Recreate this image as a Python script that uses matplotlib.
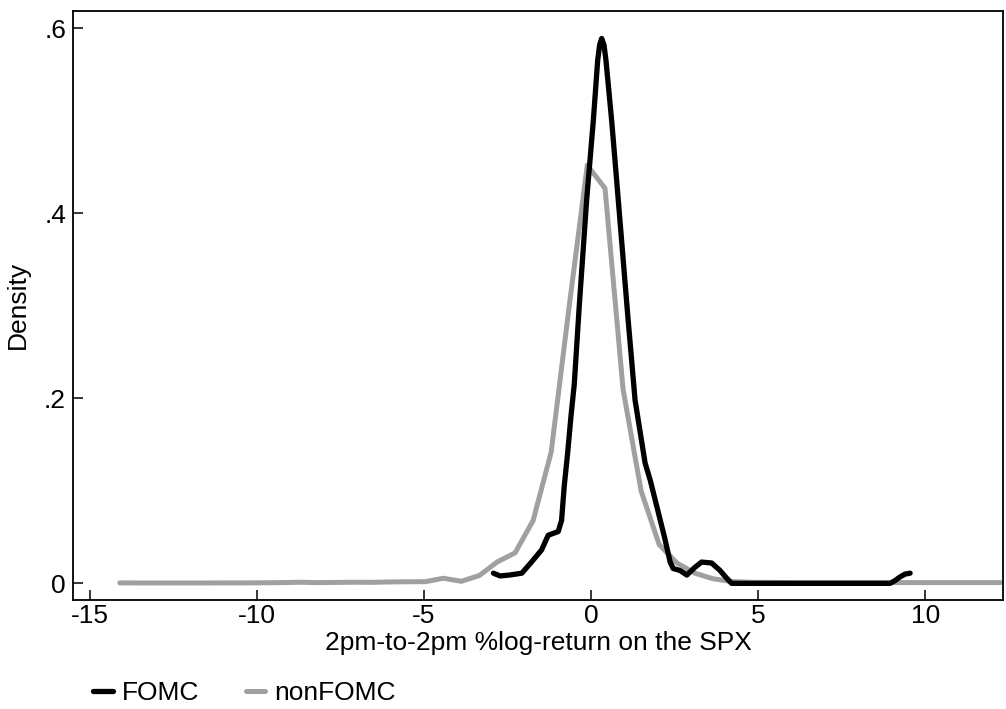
import matplotlib
matplotlib.use("Agg")
import matplotlib.pyplot as plt

plt.rcParams['font.family'] = ['Liberation Sans', 'DejaVu Sans']

# nonFOMC kernel density (coarse grid)
nonfomc_x = [-14.10, -13.56, -13.02, -12.49, -11.95, -11.41, -10.87, -10.34, -9.80, -9.26,
             -8.72, -8.18, -7.65, -7.11, -6.57, -6.03, -5.50, -4.96, -4.42, -3.88,
             -3.34, -2.81, -2.27, -1.73, -1.19, -0.65, -0.11, 0.42, 0.96, 1.50,
             2.04, 2.57, 3.11, 3.65, 4.19, 4.72, 5.26, 5.80, 6.34, 6.88,
             7.41, 7.95, 8.49, 9.03, 9.56, 10.10, 10.64, 11.18, 11.71, 12.25]
nonfomc_y = [0.0005, 0.0004, 0.0004, 0.0004, 0.0004, 0.0004, 0.0005, 0.0005, 0.0006, 0.0008,
             0.0012, 0.0008, 0.0010, 0.0012, 0.0011, 0.0015, 0.0017, 0.0018, 0.0055, 0.0022,
             0.0085, 0.023, 0.033, 0.068, 0.142, 0.300, 0.452, 0.427, 0.210, 0.100,
             0.042, 0.022, 0.011, 0.005, 0.002, 0.0012, 0.0010, 0.0009, 0.0008, 0.0008,
             0.0008, 0.0008, 0.0008, 0.0008, 0.0008, 0.0008, 0.0008, 0.0008, 0.0008, 0.0008]

# FOMC kernel density
fomc_x = [-2.92, -2.72, -2.43, -2.07, -1.78, -1.48, -1.28, -0.98, -0.88, -0.80,
          -0.70, -0.60, -0.50, -0.35, -0.13, 0.07, 0.20, 0.26, 0.32, 0.39,
          0.45, 0.62, 0.77, 0.90, 1.10, 1.32, 1.62, 1.77, 2.02, 2.20,
          2.37, 2.46, 2.66, 2.87, 3.10, 3.31, 3.61, 3.86, 4.05, 4.21,
          5.0, 6.0, 7.0, 8.0, 8.95, 9.10, 9.25, 9.40, 9.55]
fomc_y = [0.011, 0.008, 0.009, 0.011, 0.023, 0.036, 0.052, 0.056, 0.068, 0.105,
          0.140, 0.180, 0.215, 0.300, 0.414, 0.500, 0.565, 0.582, 0.589, 0.582,
          0.565, 0.500, 0.435, 0.378, 0.290, 0.198, 0.130, 0.112, 0.076, 0.050,
          0.023, 0.016, 0.014, 0.009, 0.017, 0.023, 0.022, 0.014, 0.006, 0.000,
          0.000, 0.000, 0.000, 0.000, 0.000, 0.003, 0.007, 0.010, 0.011]

xticks = [-15, -10, -5, 0, 5, 10]
yticks = [0, 0.2, 0.4, 0.6]
ytick_labels = ['0', '.2', '.4', '.6']

fig = plt.figure(figsize=(10.06, 7.09), dpi=100)
ax = fig.add_axes([73 / 1006, 1 - 600 / 709, 930 / 1006, 589.3 / 709])

ax.plot(nonfomc_x, nonfomc_y, color='#a0a0a0', lw=3.6, solid_capstyle='round',
        solid_joinstyle='round', label='nonFOMC', zorder=2)
ax.plot(fomc_x, fomc_y, color='black', lw=3.8, solid_capstyle='round',
        solid_joinstyle='round', label='FOMC', zorder=3)

ax.set_xlim(-15.5, 12.33)
ax.set_ylim(-0.018, 0.619)
ax.set_xticks(xticks)
ax.set_xticklabels([str(t) for t in xticks])
ax.set_yticks(yticks)
ax.set_yticklabels(ytick_labels)
ax.tick_params(direction='in', length=7, width=1.1, labelsize=19, color='black')
ax.tick_params(axis='x', pad=3)
ax.tick_params(axis='y', pad=5)
for s in ax.spines.values():
    s.set_linewidth(1.3)

ax.set_xlabel('2pm-to-2pm %log-return on the SPX', fontsize=19, labelpad=2)
ax.set_ylabel('Density', fontsize=19, va='center')
ax.yaxis.set_label_coords(-0.059, 0.5)

handles, labels = ax.get_legend_handles_labels()
fig.legend(handles[::-1], labels[::-1], loc='center left',
           bbox_to_anchor=(93 / 1006, 1 - 693 / 709), ncol=2, frameon=False,
           fontsize=19, handlelength=0.75, handletextpad=0.35, columnspacing=1.75,
           borderaxespad=0, borderpad=0)

fig.savefig('out.png', dpi=100)
